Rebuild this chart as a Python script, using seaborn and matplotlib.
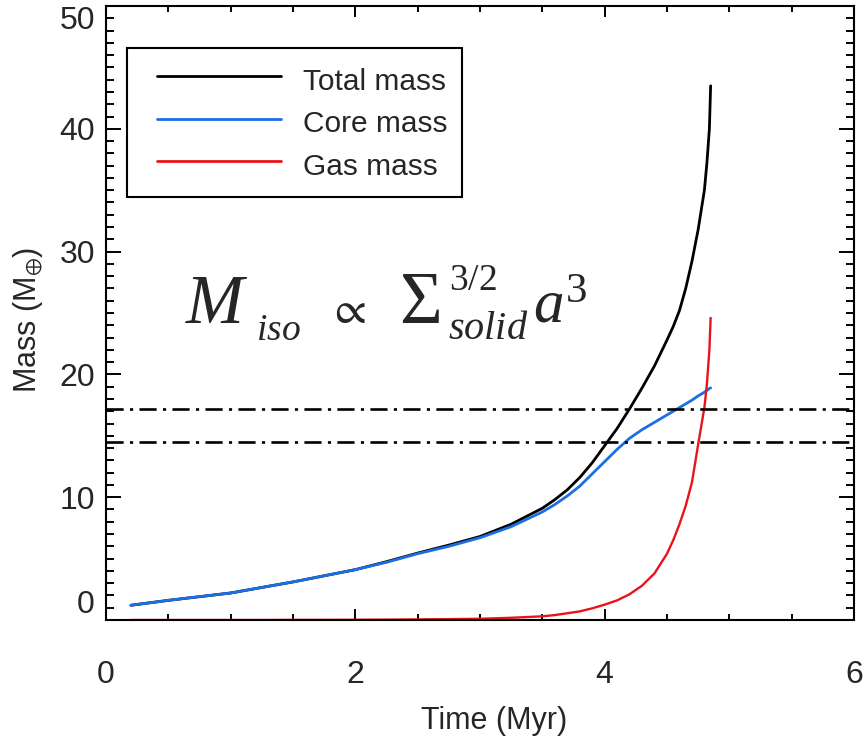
import numpy as np
import pandas as pd
import matplotlib
matplotlib.use("Agg")
import matplotlib.pyplot as plt
import seaborn as sns
from matplotlib.ticker import MultipleLocator

# ---- data ----
time_myr = [0.2, 0.5, 0.75, 1.0, 1.25, 1.5, 1.75, 2.0, 2.25, 2.5, 2.75, 3.0, 3.25, 3.5,
            3.6, 3.7, 3.8, 3.9, 4.0, 4.1, 4.2, 4.3, 4.4, 4.5, 4.55, 4.6, 4.65, 4.7,
            4.75, 4.8, 4.82, 4.84, 4.85]
total_mass = [1.2, 1.6, 1.9, 2.2, 2.65, 3.1, 3.6, 4.1, 4.75, 5.45, 6.1, 6.8, 7.8, 9.1,
              9.8, 10.6, 11.6, 12.8, 14.2, 15.6, 17.2, 18.9, 20.7, 22.8, 23.9, 25.2, 27.0, 29.2,
              31.8, 35.0, 37.2, 40.0, 43.5]
core_mass = [1.2, 1.6, 1.9, 2.2, 2.65, 3.1, 3.6, 4.1, 4.7, 5.4, 6.0, 6.7, 7.6, 8.8,
             9.4, 10.1, 10.9, 11.9, 12.9, 13.9, 14.8, 15.5, 16.1, 16.7, 17.0, 17.3, 17.6, 17.9,
             18.25, 18.55, 18.7, 18.85, 18.9]
gas_mass = [0.0, 0.0, 0.0, 0.0, 0.0, 0.01, 0.01, 0.02, 0.03, 0.05, 0.07, 0.1, 0.18, 0.3,
            0.4, 0.55, 0.7, 0.95, 1.25, 1.6, 2.1, 2.8, 3.8, 5.4, 6.5, 7.8, 9.3, 11.2,
            14.3, 17.3, 19.2, 22.0, 24.6]
iso_levels = [17.2, 14.5]
series_names = ["Total mass", "Core mass", "Gas mass"]
series_colors = ["#000000", "#1a6fe3", "#e8141c"]
x_ticks = [0, 2, 4, 6]
y_ticks = [0, 10, 20, 30, 40, 50]

sns.set_theme(style="ticks")
plt.rcParams["font.family"] = ["Liberation Sans", "DejaVu Sans"]
plt.rcParams["mathtext.fontset"] = "custom"
plt.rcParams["mathtext.rm"] = "Liberation Serif"
plt.rcParams["mathtext.it"] = "Liberation Serif:italic"
plt.rcParams["mathtext.fallback"] = "stix"

W, H = 864, 746
fig = plt.figure(figsize=(W / 100, H / 100), dpi=100)
ax = fig.add_axes([106 / W, 1 - 620 / H, 748 / W, 614 / H])

n = len(time_myr)
df = pd.DataFrame({
    "Time": time_myr * 3,
    "Mass": total_mass + core_mass + gas_mass,
    "Series": [series_names[0]] * n + [series_names[1]] * n + [series_names[2]] * n,
})
for name, col, lw in zip(series_names, series_colors, [2.0, 2.0, 1.7]):
    sub = df[df["Series"] == name]
    sns.lineplot(data=sub, x="Time", y="Mass", color=col, lw=lw, ax=ax, label=name,
                 estimator=None, sort=False)

for lv in iso_levels:
    ax.axhline(lv, color="black", lw=1.9, dashes=(6.5, 2.4, 1.2, 2.4))

ax.set_xlim(0, 6)
ax.set_ylim(0, 50)
ax.set_xticks(x_ticks)
ax.set_yticks(y_ticks)
ax.set_xticklabels([str(t) for t in x_ticks])
ax.set_yticklabels([str(t) for t in y_ticks])
ax.xaxis.set_minor_locator(MultipleLocator(0.5))
ax.yaxis.set_minor_locator(MultipleLocator(1))
ax.tick_params(which="both", direction="in", top=True, right=True, width=1.4, color="black")
ax.tick_params(axis="x", which="major", length=8, pad=29, labelsize=23)
ax.tick_params(axis="x", which="minor", length=4)
ax.tick_params(axis="y", which="major", length=11, pad=8, labelsize=23)
ax.tick_params(axis="y", which="minor", length=5.5)
for s in ax.spines.values():
    s.set_linewidth(1.5)
    s.set_color("black")

ax.set_xlabel("Time (Myr)", fontsize=22)
ax.set_ylabel(r"Mass (M$_{\oplus}$)", fontsize=22)
ax.xaxis.set_label_coords(0.519, -0.14)
ax.yaxis.set_label_coords(-0.082, 0.489)

ylabels = ax.get_yticklabels()
ylabels[0].set_va("bottom")
ylabels[-1].set_va("top")

leg = ax.legend(loc="upper left", bbox_to_anchor=(0.028, 0.932), borderaxespad=0,
                fontsize=21.5, handlelength=4.67, handleheight=1.43, handletextpad=0.72,
                labelspacing=0.24, borderpad=0.5, fancybox=False, framealpha=1,
                edgecolor="black")
leg.get_frame().set_linewidth(1.5)
for line in leg.get_lines():
    line.set_linewidth(2.0)
    xd = list(line.get_xdata())
    yd = list(line.get_ydata())
    line.set_data([xd[0] + 11.1, xd[-1]], [yd[0], yd[-1]])

# formula  M_iso ∝ Σ_solid^{3/2} a^3
def put(px, py, s, size):
    fig.text(px / W, 1 - py / H, s, fontsize=size, va="baseline", ha="left")

put(185, 323, r"$M$", 50)
put(256, 340, r"$iso$", 27)
put(328, 323, r"$\propto$", 33)
put(399, 323, r"$\Sigma$", 53)
put(449, 290, r"$3/2$", 27)
put(448, 339, r"$solid$", 29)
put(533, 323, r"$a^{3}$", 44)

fig.savefig("out.png", dpi=100)
